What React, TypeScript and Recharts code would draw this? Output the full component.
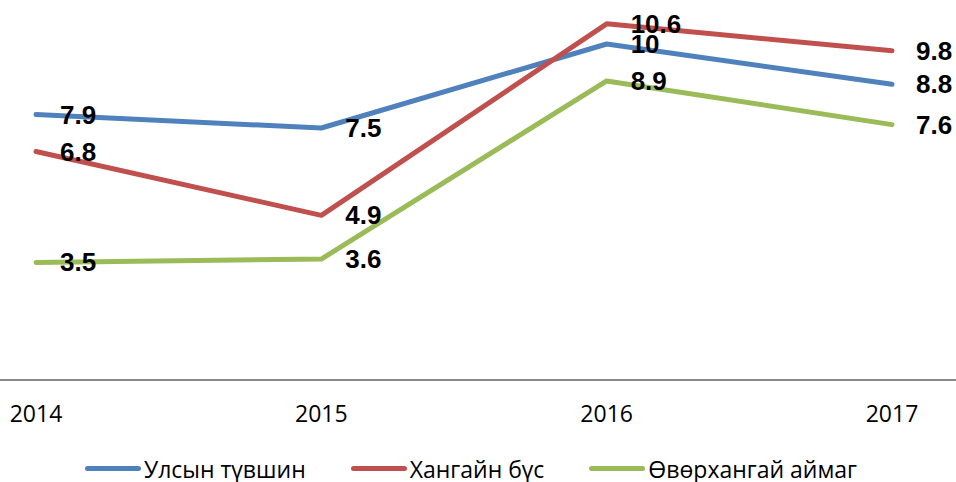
import { LineChart, Line, XAxis, YAxis, Legend, LabelList } from "recharts"

const years = ["2014", "2015", "2016", "2017"]
const national = [7.9, 7.5, 10, 8.8]
const khangai = [6.8, 4.9, 10.6, 9.8]
const uvurkhangai = [3.5, 3.6, 8.9, 7.6]

const seriesNames = ["Улсын түвшин", "Хангайн бүс", "Өвөрхангай аймаг"]
const seriesColors = ["#4F81BD", "#C0504D", "#9BBB59"]

const rows = years.map((year, i) => ({
  year,
  national: national[i],
  khangai: khangai[i],
  uvurkhangai: uvurkhangai[i],
}))

const keys = ["national", "khangai", "uvurkhangai"]

const textFont = "'Open Sans', sans-serif"

function ValueLabel(props: any) {
  const { x, y, value } = props
  return (
    <text
      x={x + 24}
      y={y}
      dominantBaseline="central"
      textAnchor="start"
      fontFamily="'Liberation Sans', Arial, sans-serif"
      fontWeight="bold"
      fontSize={26}
      fill="#000"
    >
      {value}
    </text>
  )
}

function LegendContent() {
  return (
    <div
      style={{
        display: "flex",
        justifyContent: "center",
        alignItems: "center",
        height: 52,
        paddingTop: 25,
        paddingRight: 14,
        boxSizing: "border-box",
        fontFamily: textFont,
        fontSize: 23,
        color: "#000",
      }}
    >
      {seriesNames.map((name, i) => (
        <div key={name} style={{ display: "flex", alignItems: "center", marginRight: i < 2 ? 45 : 0 }}>
          <span
            style={{
              display: "inline-block",
              width: 56,
              height: 5,
              borderRadius: 3,
              background: seriesColors[i],
              marginRight: 3,
            }}
          />
          <span style={{ lineHeight: "26px" }}>{name}</span>
        </div>
      ))}
    </div>
  )
}

export default function App() {
  return (
    <div style={{ position: "absolute", left: 0, top: 0, width: 956, height: 482, background: "#fff" }}>
      <LineChart width={956} height={482} data={rows} margin={{ top: 0, right: 0, bottom: 0, left: 0 }}>
        <XAxis
          dataKey="year"
          padding={{ left: 36, right: 64 }}
          axisLine={{ stroke: "#888", strokeWidth: 2 }}
          tickLine={false}
          tickMargin={20}
          height={50}
          interval={0}
          tick={{ fill: "#000", fontSize: 23, fontFamily: textFont }}
        />
        <YAxis hide domain={[0, 11.31]} />
        <Legend verticalAlign="bottom" height={52} content={<LegendContent />} />
        {keys.map((k, i) => (
          <Line
            key={k}
            dataKey={k}
            name={seriesNames[i]}
            type="linear"
            stroke={seriesColors[i]}
            strokeWidth={5}
            strokeLinecap="round"
            strokeLinejoin="round"
            dot={false}
            activeDot={false}
            isAnimationActive={false}
          >
            <LabelList dataKey={k} content={<ValueLabel />} />
          </Line>
        ))}
      </LineChart>
    </div>
  )
}
